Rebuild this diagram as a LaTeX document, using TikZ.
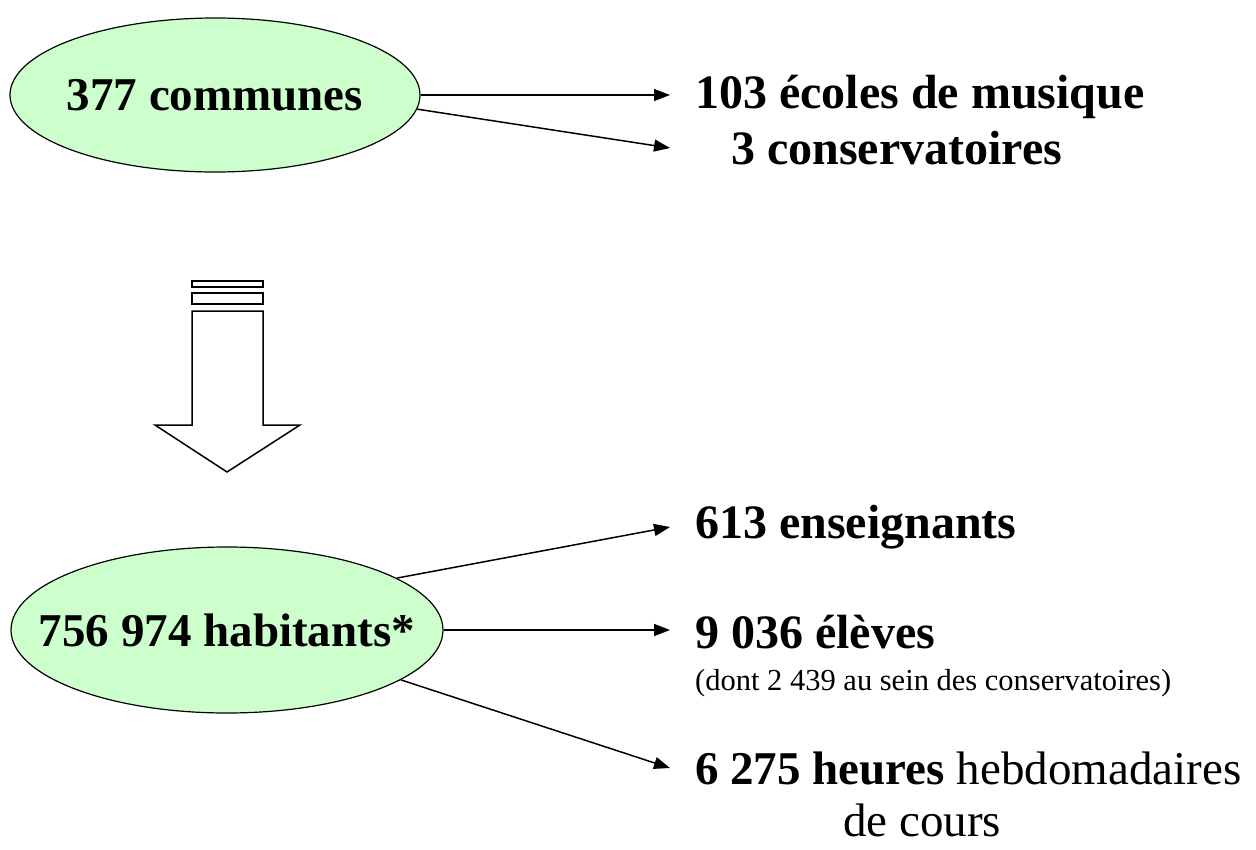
\documentclass[tikz,border=0pt]{standalone}
\usepackage{fontspec}
\setmainfont{Liberation Serif}
\usetikzlibrary{shapes.geometric,arrows.meta,calc}
\definecolor{ovalgreen}{HTML}{CCFFCC}
\newcommand{\ovaltext}[1]{\makebox[0pt]{#1}}
\begin{document}
\begin{tikzpicture}[x=1pt,y=-1pt,
  oval/.style={ellipse,draw=black,line width=1.2pt,fill=ovalgreen,inner sep=0pt,
    font=\fontsize{47}{50}\selectfont\bfseries},
  conn/.style={line width=1.5pt,-{Triangle[length=16pt,width=12pt]}},
  big/.style={anchor=west,inner sep=0pt,font=\fontsize{48}{52}\selectfont\bfseries},
  small/.style={anchor=west,inner sep=0pt,font=\fontsize{30.5}{34}\selectfont},
  reg/.style={anchor=west,inner sep=0pt,font=\fontsize{47}{50}\selectfont},
  blk/.style={draw=black,line width=1.5pt,fill=white,line join=miter}]
\useasboundingbox (0,0) rectangle (1256,849);
% ovals
\node[oval,minimum width=410pt,minimum height=154pt] (e1) at (215,95) {\ovaltext{377 communes}};
\node[oval,minimum width=432pt,minimum height=166pt] (e2) at (227,630) {\ovaltext{756 974 habitants*}};
% texts top
\node[big] (t1) at (695,97) {103 écoles de musique};
\node[big] (t2) at (731,148) {3 conservatoires};
% texts bottom
\node[big] (b1) at (695,527) {613 enseignants};
\node[big] (b2) at (695,632) {9 036 élèves};
\node[small] (b2s) at (695,683) {(dont 2 439 au sein des conservatoires)};
\node[big,font=\fontsize{47}{50}\selectfont\bfseries] (b3) at (695,768) {6 275 heures \normalfont hebdomadaires};
\node[reg] (b3b) at (843,820) {de cours};
% connectors
\draw[conn] (e1.east) -- ([xshift=-25pt]e1.east -| t1.west);
\draw[conn] (e1.-4) -- ([xshift=-61pt]t2.west);
\draw[conn] (e2.17) -- ([xshift=-25pt]b1.west);
\draw[conn] (e2.east) -- ([xshift=-25pt]e2.east -| b2.west);
\draw[conn] (e2.-16) -- ([xshift=-25pt]b3.west);
% block arrow
\draw[blk] (192,281) rectangle (263,287);
\draw[blk] (192,293) rectangle (263,304);
\draw[blk] (192,311) -- (263,311) -- (263,425) -- (300,425) -- (227,472) -- (155,425) -- (192,425) -- cycle;
\end{tikzpicture}
\end{document}
